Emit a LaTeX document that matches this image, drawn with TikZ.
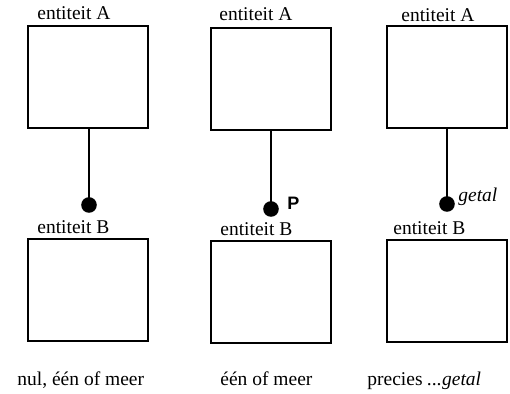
\documentclass[tikz,border=0pt]{standalone}
\usepackage{fontspec}
\setmainfont{Liberation Serif}
\setsansfont{Liberation Sans}
\usepackage{tikz}

\tikzset{
  entity/.style={draw, line width=1pt, rectangle, minimum width=60pt, minimum height=51pt, inner sep=0pt},
  title/.style={anchor=base west, inner sep=0pt, font=\fontsize{9.75}{12}\selectfont},
  ball/.style={circle, fill=black, inner sep=0pt, minimum size=7.8pt},
  conn/.style={line width=1pt},
}

\begin{document}
\begin{tikzpicture}[x=0.5pt, y=-0.5pt]
  \useasboundingbox (0,0) rectangle (510,394);

  % Panel 1: nul, een of meer
  \node[entity] (a1) at (88,77.5) {};
  \node[title] (ta1) at (37,20) {entiteit A};
  \node[entity] (b1) at (88,290.5) {};
  \node[title] (tb1) at (37,234) {entiteit B};
  \node[ball] (d1) at (89,205) {};
  \draw[conn] (a1.south -| d1) -- (d1.center);
  \node[title] (c1) at (17,386) {nul, één of meer};

  % Panel 2: een of meer
  \node[entity] (a2) at (271,79) {};
  \node[title] (ta2) at (219,21) {entiteit A};
  \node[entity] (b2) at (271,292.5) {};
  \node[title] (tb2) at (220,236) {entiteit B};
  \node[ball] (d2) at (271,209) {};
  \draw[conn] (a2.south -| d2) -- (d2.center);
  \node[title, font=\sffamily\bfseries\fontsize{9}{11}\selectfont] (p2) at (287,210) {P};
  \node[title] (c2) at (220,386) {één of meer};

  % Panel 3: precies ...getal
  \node[entity] (a3) at (446.5,77.5) {};
  \node[title] (ta3) at (401,21.5) {entiteit A};
  \node[entity] (b3) at (446.5,291) {};
  \node[title] (tb3) at (393,235) {entiteit B};
  \node[ball] (d3) at (447,204) {};
  \draw[conn] (a3.south -| d3) -- (d3.center);
  \node[title] (g3) at (458,201.5) {\textit{getal}};
  \node[title] (c3) at (367,386) {precies \textit{...getal}};
\end{tikzpicture}
\end{document}
